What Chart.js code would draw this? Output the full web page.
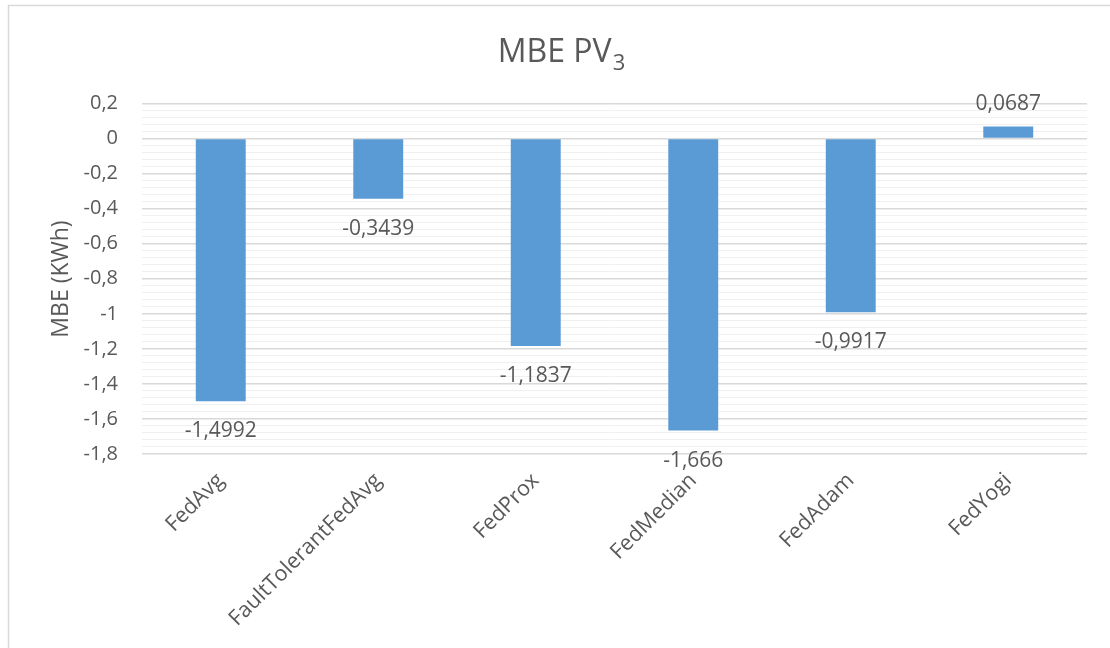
<!DOCTYPE html>
<html>
<head>
<meta charset="utf-8">
<script src="https://cdn.jsdelivr.net/npm/chart.js@4/dist/chart.umd.min.js"></script>
<style>
  html, body { margin: 0; padding: 0; background: #ffffff; }
  #wrap { width: 1110px; height: 648px; position: relative; }
</style>
</head>
<body>
<div id="wrap"><canvas id="c" width="1110" height="648"></canvas></div>
<script>
// Chart data
const categories = ['FedAvg', 'FaultTolerantFedAvg', 'FedProx', 'FedMedian', 'FedAdam', 'FedYogi'];
const mbeValues = [-1.4992, -0.3439, -1.1837, -1.666, -0.9917, 0.0687];
const yMajorTicks = [0.2, 0, -0.2, -0.4, -0.6, -0.8, -1, -1.2, -1.4, -1.6, -1.8];
const yMinorStep = 0.04;
const titleMain = 'MBE PV';
const titleSub = '3';
const yAxisTitle = 'MBE (KWh)';

const FONT = '"Open Sans", "Noto Sans", sans-serif';
const TEXT = '#595959';

const fmt = v => String(v).replace('.', ',');
const isMajor = v => yMajorTicks.some(m => Math.abs(m - v) < 1e-6);

// Frame, title, axis title and value labels
const decorations = {
  id: 'decorations',
  beforeDraw(chart) {
    const ctx = chart.ctx;
    ctx.save();
    ctx.strokeStyle = '#d9d9d9';
    ctx.lineWidth = 1.5;
    ctx.strokeRect(8.5, 5.5, 1200, 800);
    ctx.restore();
  },
  afterDraw(chart) {
    const ctx = chart.ctx;
    ctx.save();
    ctx.fillStyle = TEXT;
    // Title with subscript
    ctx.font = '32px ' + FONT;
    const mainW = ctx.measureText(titleMain).width;
    ctx.font = '22px ' + FONT;
    const subW = ctx.measureText(titleSub).width;
    const startX = 561 - (mainW + subW) / 2;
    ctx.textAlign = 'left';
    ctx.textBaseline = 'alphabetic';
    ctx.font = '32px ' + FONT;
    ctx.fillText(titleMain, startX, 62);
    ctx.font = '22px ' + FONT;
    ctx.fillText(titleSub, startX + mainW + 1, 70);

    // Y axis title
    ctx.save();
    ctx.translate(61, 279);
    ctx.rotate(-Math.PI / 2);
    ctx.font = '23px ' + FONT;
    ctx.textAlign = 'center';
    ctx.textBaseline = 'middle';
    ctx.fillText(yAxisTitle, 0, 0);
    ctx.restore();

    // Value labels beyond the bar ends
    const meta = chart.getDatasetMeta(0);
    ctx.font = '21px ' + FONT;
    ctx.textAlign = 'center';
    ctx.textBaseline = 'alphabetic';
    meta.data.forEach((bar, i) => {
      const v = mbeValues[i];
      const y = v < 0 ? bar.y + 36 : bar.y - 16.5;
      ctx.fillText(fmt(v), bar.x, y);
    });
    ctx.restore();
  }
};

new Chart(document.getElementById('c'), {
  type: 'bar',
  data: {
    labels: categories,
    datasets: [{
      data: mbeValues,
      backgroundColor: '#5b9bd5',
      borderWidth: 0,
      barPercentage: 0.317,
      categoryPercentage: 1.0
    }]
  },
  options: {
    responsive: false,
    devicePixelRatio: 1,
    animation: false,
    layout: { padding: { top: 103.5, right: 23, bottom: 0, left: 0 } },
    plugins: {
      legend: { display: false },
      title: { display: false },
      tooltip: { enabled: false }
    },
    scales: {
      x: {
        grid: { display: false, drawTicks: false },
        border: { display: false },
        ticks: {
          color: TEXT,
          font: { family: FONT, size: 21.5 },
          minRotation: 45,
          maxRotation: 45,
          autoSkip: false,
          padding: 14
        },
        afterFit(scale) { scale.height = 194; }
      },
      y: {
        min: -1.8,
        max: 0.2,
        grid: {
          drawTicks: false,
          color: ctx => isMajor(ctx.tick.value) ? '#d9d9d9' : '#f0f0f0',
          lineWidth: ctx => isMajor(ctx.tick.value) ? 1.5 : 1
        },
        border: { display: false },
        ticks: {
          stepSize: yMinorStep,
          maxTicksLimit: 200,
          autoSkip: false,
          color: TEXT,
          font: { family: FONT, size: 20 },
          padding: 24,
          callback: v => isMajor(v) ? fmt(yMajorTicks.find(m => Math.abs(m - v) < 1e-6)) : ''
        },
        afterFit(scale) { scale.width = 142; }
      }
    }
  },
  plugins: [decorations]
});
</script>
</body>
</html>
